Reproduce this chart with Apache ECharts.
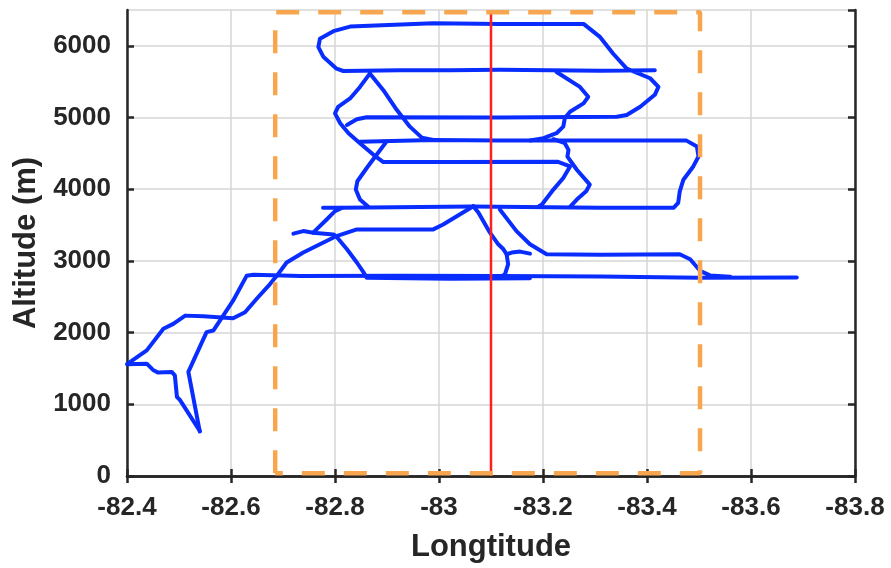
<!DOCTYPE html>
<html>
<head>
<meta charset="utf-8">
<script src="https://cdn.jsdelivr.net/npm/echarts@6/dist/echarts.min.js"></script>
<style>
  html, body { margin: 0; padding: 0; background: #fff; }
  #chart { width: 891px; height: 568px; }
</style>
</head>
<body>
<div id="chart"></div>
<script>
// axis ranges (longitude runs west to the right)
const lonWest = -83.8;
const lonEast = -82.4;
const lonStep = 0.2;
const altMin = 0;
const altMax = 6500;
const altStep = 1000;

// flight track pieces, [longitude, altitude m]
const climbWest = [
  [-82.540, 628], [-82.502, 1058], [-82.496, 1105], [-82.492, 1405], [-82.486, 1452],
  [-82.460, 1442], [-82.451, 1474], [-82.438, 1567], [-82.400, 1560],
  [-82.438, 1752], [-82.470, 2053], [-82.489, 2122], [-82.512, 2237], [-82.547, 2229],
  [-82.604, 2201], [-82.627, 2284], [-82.649, 2469], [-82.675, 2677], [-82.688, 2792],
  [-82.707, 2978], [-82.739, 3117], [-82.803, 3347], [-82.842, 3440], [-82.989, 3440],
  [-83.008, 3509], [-83.066, 3763]
];
const lowLeg = [
  [-82.540, 620], [-82.518, 1452], [-82.553, 2007], [-82.566, 2029], [-82.604, 2445],
  [-82.630, 2792], [-82.643, 2806], [-82.733, 2788], [-82.925, 2792], [-83.117, 2788],
  [-83.310, 2781], [-83.502, 2767], [-83.688, 2770]
];
const spur3400 = [
  [-82.720, 3380], [-82.739, 3416], [-82.758, 3394], [-82.797, 3370], [-82.803, 3338],
  [-82.823, 3162], [-82.842, 2978], [-82.855, 2839], [-82.861, 2764], [-83.021, 2753],
  [-83.175, 2760]
];
const leg3700 = [
  [-82.758, 3394], [-82.784, 3578], [-82.800, 3694], [-82.813, 3740], [-83.065, 3759],
  [-83.310, 3740], [-83.451, 3740], [-83.460, 3810], [-83.463, 3971], [-83.470, 4133],
  [-83.489, 4318], [-83.499, 4456], [-83.496, 4596], [-83.476, 4678], [-83.310, 4681],
  [-83.117, 4681], [-82.989, 4688], [-82.848, 4664]
];
const overshoot3700 = [[-82.777, 3740], [-82.813, 3740]];
const topLoop = [
  [-83.415, 5659], [-83.310, 5652], [-83.117, 5666], [-83.021, 5659], [-82.925, 5659],
  [-82.816, 5649], [-82.803, 5682], [-82.778, 5843], [-82.768, 5982], [-82.771, 6099],
  [-82.797, 6205], [-82.829, 6269], [-82.989, 6315], [-83.117, 6306], [-83.278, 6306],
  [-83.310, 6121], [-83.335, 5890], [-83.361, 5682], [-83.406, 5548], [-83.422, 5427],
  [-83.415, 5317], [-83.387, 5150], [-83.361, 5035], [-83.342, 5011], [-83.117, 5000],
  [-82.861, 5003], [-82.842, 4975], [-82.823, 4896]
];
const leftLoop = [
  [-82.867, 5613], [-82.848, 5427], [-82.829, 5266], [-82.806, 5150], [-82.800, 5058],
  [-82.810, 4920], [-82.826, 4781], [-82.848, 4642], [-82.874, 4480], [-82.893, 4379],
  [-83.021, 4379], [-83.229, 4383], [-83.252, 4318], [-83.239, 4157], [-83.220, 3995],
  [-83.198, 3787], [-83.191, 3755]
];
const midDiag = [
  [-82.867, 5613], [-82.893, 5382], [-82.919, 5104], [-82.944, 4873], [-82.967, 4720],
  [-82.989, 4688]
];
const dropWest = [
  [-82.899, 4664], [-82.880, 4480], [-82.861, 4296], [-82.843, 4111], [-82.840, 3995],
  [-82.848, 3856], [-82.864, 3755]
];
const innerLoop = [
  [-83.226, 5636], [-83.271, 5427], [-83.287, 5289], [-83.278, 5197], [-83.252, 5080],
  [-83.242, 4993], [-83.239, 4873], [-83.226, 4781], [-83.201, 4712], [-83.175, 4681]
];
const dropEast = [
  [-83.220, 4698], [-83.242, 4642], [-83.249, 4549], [-83.247, 4456], [-83.265, 4272],
  [-83.290, 4064], [-83.283, 3971], [-83.265, 3856], [-83.252, 3755]
];
const peakDrop = [
  [-83.066, 3763], [-83.076, 3671], [-83.098, 3394], [-83.114, 3232], [-83.124, 3162],
  [-83.130, 3093], [-83.133, 2954], [-83.127, 2815], [-83.117, 2774]
];
const peakSpur = [[-83.130, 3093], [-83.140, 3116], [-83.156, 3130], [-83.175, 3102]];
const leg3100 = [
  [-83.117, 3717], [-83.149, 3416], [-83.175, 3232], [-83.207, 3093], [-83.310, 3086],
  [-83.463, 3093], [-83.483, 3024], [-83.502, 2862], [-83.521, 2798], [-83.560, 2781]
];

const trackPieces = [climbWest, lowLeg, spur3400, leg3700, overshoot3700, topLoop,
  leftLoop, midDiag, dropWest, innerLoop, dropEast, peakDrop, peakSpur, leg3100];

// marker line and study box
const refLon = -83.1;
const boxLon = [-82.685, -83.502];
const boxAlt = [40, 6470];

const font = "'Liberation Sans', Arial, sans-serif";
const ink = "#262626";

const chart = echarts.init(document.getElementById("chart"), null, { renderer: "canvas" });

const trackSeries = trackPieces.map(function (d) {
  return {
    type: "line",
    data: d,
    showSymbol: false,
    silent: true,
    z: 3,
    lineStyle: { color: "#0a2dff", width: 4, cap: "round", join: "round" }
  };
});

const option = {
  animation: false,
  grid: { left: 127, right: 36, top: 10, bottom: 90 },
  xAxis: [
    {
      type: "value",
      inverse: true,
      min: lonWest,
      max: lonEast,
      interval: lonStep,
      name: "Longtitude",
      nameLocation: "middle",
      nameGap: 56,
      nameTextStyle: { fontFamily: font, fontSize: 31, fontWeight: "bold", color: ink },
      axisLine: { lineStyle: { color: ink, width: 2.5 } },
      axisTick: { inside: true, length: 7, lineStyle: { color: ink, width: 2.5 } },
      axisLabel: { margin: 19, fontFamily: font, fontSize: 26, fontWeight: "bold", color: ink },
      splitLine: { show: true, lineStyle: { color: "#d6d6d6", width: 1.5 } }
    },
    {
      type: "value",
      inverse: true,
      position: "top",
      min: lonWest,
      max: lonEast,
      interval: lonStep,
      axisLine: { lineStyle: { color: ink, width: 2.5 } },
      axisTick: { inside: true, length: 7, lineStyle: { color: ink, width: 2.5 } },
      axisLabel: { show: false },
      splitLine: { show: false }
    }
  ],
  yAxis: [
    {
      type: "value",
      min: altMin,
      max: altMax,
      interval: altStep,
      name: "Altitude (m)",
      nameLocation: "middle",
      nameGap: 76,
      nameTextStyle: { fontFamily: font, fontSize: 31, fontWeight: "bold", color: ink },
      axisLine: { show: true, lineStyle: { color: ink, width: 2.5 } },
      axisTick: { show: true, inside: true, length: 7, lineStyle: { color: ink, width: 2.5 } },
      axisLabel: {
        margin: 16, showMaxLabel: false, fontFamily: font, fontSize: 26, fontWeight: "bold", color: ink,
        formatter: function (v) { return String(v); }
      },
      splitLine: { show: true, lineStyle: { color: "#d6d6d6", width: 1.5 } }
    },
    {
      type: "value",
      position: "right",
      min: altMin,
      max: altMax,
      interval: altStep,
      axisLine: { show: true, lineStyle: { color: ink, width: 2.5 } },
      axisTick: { show: true, inside: true, length: 7, lineStyle: { color: ink, width: 2.5 } },
      axisLabel: { show: false },
      splitLine: { show: false }
    }
  ],
  series: trackSeries.concat([
    {
      type: "line",
      data: [[refLon, altMin], [refLon, altMax]],
      showSymbol: false,
      silent: true,
      z: 4,
      lineStyle: { color: "#ff1f1f", width: 2.5 }
    },
    {
      type: "line",
      data: [
        [boxLon[0], boxAlt[0]], [boxLon[0], boxAlt[1]], [boxLon[1], boxAlt[1]],
        [boxLon[1], boxAlt[0]], [boxLon[0], boxAlt[0]]
      ],
      showSymbol: false,
      silent: true,
      z: 5,
      lineStyle: { color: "#f8a54f", width: 4.5, type: [23, 19], cap: "butt" }
    }
  ])
};

chart.setOption(option);
</script>
</body>
</html>
